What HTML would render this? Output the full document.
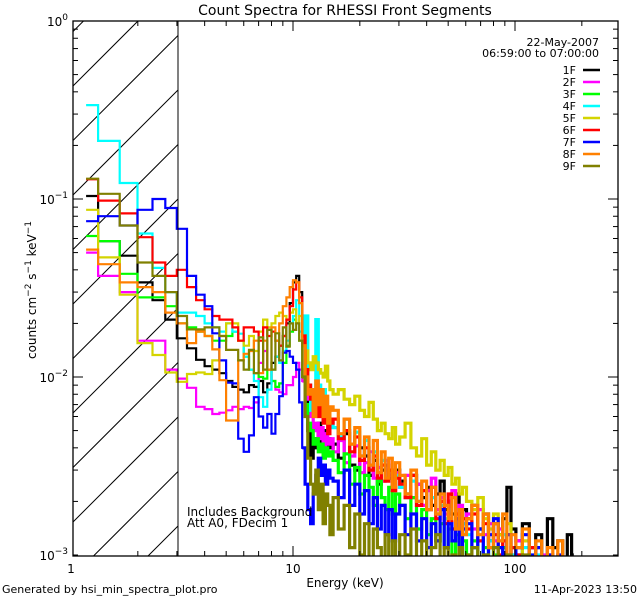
<!DOCTYPE html>
<html><head><meta charset="utf-8"><style>
html,body{margin:0;padding:0;background:#fff;width:640px;height:600px;overflow:hidden;}
svg{display:block;font-family:"DejaVu Sans","Liberation Sans",sans-serif;}
</style></head><body>
<svg id="chart" width="640" height="600" viewBox="0 0 640 600">
<rect x="0" y="0" width="640" height="600" fill="#fff"/>
<defs><clipPath id="plotclip"><rect x="73" y="21" width="545" height="535"/></clipPath></defs>
<g id="hatch"></g>
<g id="series" clip-path="url(#plotclip)"></g>
<g id="axes"></g>
<text x="345" y="15" font-size="14" text-anchor="middle">Count Spectra for RHESSI Front Segments</text>
<text x="345" y="587" font-size="12" text-anchor="middle">Energy (keV)</text>
<text transform="translate(36,290) rotate(-90)" font-size="12" text-anchor="middle">counts cm<tspan baseline-shift="super" font-size="9">−2</tspan> s<tspan baseline-shift="super" font-size="9">−1</tspan> keV<tspan baseline-shift="super" font-size="9">−1</tspan></text>
<text x="2" y="593" font-size="11">Generated by hsi_min_spectra_plot.pro</text>
<text x="637" y="593" font-size="11" text-anchor="end">11-Apr-2023 13:50</text>
<text x="187" y="516" font-size="12">Includes Background</text>
<text x="187" y="527" font-size="12">Att A0, FDecim 1</text>
<text x="599" y="46" font-size="11" text-anchor="end">22-May-2007</text>
<text x="599" y="57" font-size="11" text-anchor="end">06:59:00 to 07:00:00</text>
<g id="legend"></g>
</svg>
<script>
// Energy bin centers (keV)
const energies=[1.17,1.5,1.83,2.17,2.5,2.83,3.17,3.5,3.83,4.17,4.5,4.83,5.17,5.5,5.83,6.17,6.5,6.83,7.17,7.5,7.83,8.17,8.5,8.83,9.17,9.5,9.83,10.17,10.5,10.83,11.17,11.5,11.83,12.17,12.5,12.83,13.17,13.5,13.83,14.17,14.5,14.83,
15.5,16.5,17.5,18.5,19.5,20.5,21.5,22.5,23.5,24.5,25.5,26.5,27.5,28.5,29.5,
31,33,35,37,39,41,43,45,47,49,51,53,55,57,59,
62,66,70,74,78,82,86,90,94,98,
104,112,120,128,136,144,152,160,168,176,184];
const labels=["1F","2F","3F","4F","5F","6F","7F","8F","9F"];
const colors=["#000000","#ff00ff","#00ff00","#00ffff","#d4d400","#ff0000","#0000ff","#ff8000","#808000"];
const s1F=[0.104,0.058,0.048,0.034,0.027,0.021,0.0165,0.0145,0.0125,0.0115,0.011,0.0105,0.0095,0.0088,0.0085,0.0082,0.009,0.0088,0.0095,0.0082,0.0092,0.012,0.013,0.015,0.017,0.02,0.026,0.034,0.037,0.03,0.016,0.008,0.005,0.0035,0.0045,0.004,0.0055,0.004,0.005,0.0038,0.0045,0.004,
0.0042,0.0035,0.0048,0.0032,0.003,0.004,0.0036,0.0028,0.0034,0.0025,0.003,0.0032,0.0027,0.0024,0.003,
0.0026,0.0022,0.0028,0.0025,0.0021,0.0024,0.0019,0.0022,0.0026,0.0018,0.002,0.0017,0.0022,0.0015,0.0018,
0.0016,0.0019,0.0014,0.0017,0.0012,0.0015,0.0013,0.0016,0.0024,0.0014,
0.0012,0.0015,0.0011,0.0013,0.0009,0.0016,0.0011,0.0012,0.0009,0.0013,0.001];
const s2F=[0.05,0.037,0.030,0.016,0.016,0.011,0.0098,0.0087,0.0068,0.0066,0.0062,0.0063,0.0065,0.0068,0.0066,0.0068,0.0067,0.0072,0.012,0.014,0.011,0.0095,0.0085,0.0082,0.008,0.009,0.009,0.01,0.012,0.011,0.0095,0.009,0.0075,0.006,0.005,0.0055,0.0045,0.0052,0.004,0.0048,0.0042,0.0045,
0.0038,0.0044,0.0033,0.0036,0.0041,0.0029,0.0033,0.0038,0.0027,0.0031,0.0026,0.0034,0.0028,0.0023,0.0029,
0.0024,0.0028,0.0021,0.0025,0.0019,0.0023,0.0027,0.0018,0.0021,0.0017,0.002,0.0023,0.0016,0.0019,0.0015,
0.0017,0.0014,0.0018,0.0013,0.0015,0.0012,0.0014,0.0011,0.0013,0.001,
0.0012,0.0009,0.0011,0.0008,0.001,0.0009,0.0007,0.0009,0.0008,0.0006,0.0007];
const s3F=[0.062,0.058,0.038,0.028,0.028,0.025,0.020,0.019,0.018,0.017,0.016,0.016,0.017,0.018,0.016,0.013,0.011,0.0105,0.01,0.0098,0.011,0.0095,0.0088,0.0092,0.012,0.015,0.018,0.021,0.02,0.016,0.01,0.007,0.0055,0.005,0.0042,0.0045,0.0038,0.0042,0.0035,0.004,0.0036,0.0038,
0.0034,0.0029,0.0037,0.0025,0.0031,0.0022,0.0028,0.0024,0.0019,0.0026,0.0021,0.0018,0.0024,0.0017,0.0022,
0.0019,0.0016,0.0021,0.0014,0.0018,0.0013,0.0016,0.0012,0.0015,0.0011,0.0014,0.001,0.0013,0.0009,0.0012,
0.001,0.0012,0.0009,0.0011,0.0008,0.001,0.0009,0.0011,0.0008,0.0009,
0.0008,0.0009,0.0007,0.0008,0.0006,0.0008,0.0007,0.0006,0.0007,0.0005,0.0006];
const s4F=[0.337,0.212,0.123,0.064,0.041,0.030,0.023,0.023,0.022,0.020,0.019,0.018,0.02,0.018,0.0175,0.013,0.011,0.0095,0.0077,0.0068,0.0085,0.011,0.013,0.012,0.014,0.016,0.02,0.022,0.027,0.018,0.012,0.022,0.009,0.0065,0.0085,0.021,0.009,0.007,0.0085,0.006,0.0065,0.0055,
0.0052,0.0046,0.0058,0.0042,0.0049,0.0036,0.0044,0.0032,0.0038,0.0029,0.0034,0.0027,0.003,0.0025,0.0028,
0.0024,0.0021,0.0026,0.002,0.0023,0.0018,0.0021,0.0017,0.0019,0.0016,0.0018,0.0014,0.0016,0.0013,0.0015,
0.0013,0.0011,0.0014,0.001,0.0012,0.0009,0.0011,0.0013,0.0009,0.001,
0.0009,0.0011,0.0008,0.001,0.0007,0.0009,0.0008,0.0007,0.0008,0.0006,0.0007];
const s5F=[0.087,0.047,0.029,0.0155,0.0133,0.0106,0.0094,0.0104,0.0106,0.0104,0.0124,0.017,0.02,0.02,0.016,0.015,0.017,0.014,0.018,0.021,0.019,0.02,0.022,0.023,0.022,0.021,0.023,0.024,0.02,0.022,0.017,0.014,0.012,0.011,0.013,0.012,0.011,0.0105,0.01,0.0115,0.0095,0.0085,
0.008,0.0085,0.0075,0.007,0.0078,0.0065,0.006,0.0072,0.0058,0.005,0.0055,0.0048,0.0045,0.0052,0.0042,
0.0046,0.0055,0.004,0.0036,0.0045,0.0032,0.0038,0.003,0.0034,0.0028,0.0031,0.0025,0.0027,0.0022,0.0024,
0.002,0.0018,0.0021,0.0016,0.0014,0.0017,0.0013,0.0012,0.0015,0.0011,
0.001,0.0012,0.0009,0.0011,0.0008,0.001,0.0009,0.0007,0.0008,0.0006,0.0007];
const s6F=[0.129,0.098,0.083,0.061,0.044,0.037,0.040,0.032,0.027,0.024,0.022,0.021,0.021,0.019,0.016,0.019,0.019,0.018,0.016,0.019,0.017,0.018,0.016,0.015,0.017,0.021,0.025,0.031,0.034,0.028,0.017,0.011,0.009,0.0075,0.0065,0.0085,0.006,0.0072,0.0055,0.0065,0.0048,0.0055,
0.0058,0.0045,0.005,0.0038,0.0046,0.0034,0.004,0.003,0.0036,0.0027,0.0032,0.0026,0.003,0.0023,0.0027,
0.0025,0.0021,0.0028,0.0019,0.0023,0.0018,0.0024,0.0016,0.002,0.0015,0.0022,0.0014,0.0017,0.0013,0.0016,
0.0014,0.0017,0.0012,0.0015,0.0011,0.0013,0.001,0.0012,0.0009,0.0011,
0.001,0.0008,0.0011,0.0007,0.0009,0.0008,0.0007,0.0008,0.0006,0.0007,0.0006];
const s7F=[0.075,0.080,0.071,0.087,0.1,0.089,0.068,0.037,0.029,0.025,0.0176,0.0124,0.0093,0.0092,0.0045,0.0038,0.0047,0.0077,0.006,0.0052,0.0062,0.0048,0.0062,0.0078,0.0137,0.014,0.013,0.012,0.011,0.0072,0.004,0.0025,0.0018,0.0015,0.0022,0.0028,0.0035,0.0028,0.0032,0.0025,0.003,0.0027,
0.0026,0.0021,0.003,0.0019,0.0025,0.0017,0.0023,0.0015,0.0021,0.0014,0.0019,0.0013,0.0018,0.0012,0.0017,
0.0019,0.0013,0.0017,0.0012,0.0016,0.0011,0.0015,0.0012,0.0018,0.0011,0.0015,0.0012,0.0016,0.001,0.0014,
0.0015,0.0011,0.0014,0.001,0.0013,0.0016,0.0011,0.001,0.0013,0.0009,
0.0011,0.0013,0.001,0.0011,0.0009,0.001,0.0008,0.001,0.0009,0.0008,0.0007];
const s8F=[0.052,0.043,0.034,0.032,0.030,0.023,0.02,0.0155,0.018,0.017,0.0143,0.0096,0.0057,0.0057,0.0124,0.0135,0.014,0.016,0.0105,0.016,0.011,0.019,0.016,0.02,0.025,0.028,0.032,0.035,0.034,0.026,0.015,0.01,0.008,0.0085,0.006,0.0095,0.007,0.0085,0.006,0.0078,0.0055,0.0068,
0.0065,0.0048,0.0058,0.0042,0.0052,0.0036,0.0046,0.0032,0.0044,0.0029,0.0038,0.0027,0.0035,0.0024,0.0033,
0.0028,0.0022,0.003,0.002,0.0026,0.0018,0.0024,0.0017,0.0022,0.0019,0.0016,0.0021,0.0014,0.0018,0.0013,
0.0016,0.0019,0.0013,0.0017,0.0011,0.0015,0.0012,0.0017,0.001,0.0013,
0.0011,0.0014,0.0009,0.0012,0.0008,0.0011,0.0009,0.0012,0.0008,0.0007,0.0006];
const s9F=[0.13,0.107,0.071,0.044,0.037,0.03,0.022,0.0185,0.0185,0.019,0.019,0.017,0.0142,0.0142,0.0124,0.011,0.0142,0.0105,0.0167,0.011,0.0184,0.011,0.0176,0.0124,0.019,0.0148,0.02,0.0184,0.02,0.016,0.01,0.006,0.0035,0.0025,0.0022,0.003,0.0018,0.0025,0.0015,0.0022,0.0019,0.0013,
0.0021,0.0014,0.0019,0.0011,0.0017,0.001,0.0015,0.0009,0.0014,0.0011,0.0009,0.0013,0.0008,0.0012,0.0009,
0.0013,0.001,0.0014,0.0009,0.0012,0.0008,0.0011,0.0013,0.0009,0.0011,0.0008,0.001,0.0009,0.0011,0.0008,
0.001,0.0011,0.0008,0.001,0.0009,0.0011,0.0008,0.0009,0.001,0.0008,
0.0009,0.001,0.0008,0.0009,0.0007,0.0009,0.0008,0.0007,0.0008,0.0007,0.0007];
const seriesValues=[s1F,s2F,s3F,s4F,s5F,s6F,s7F,s8F,s9F];
const xTickLabels=["1","10","100"];
const yTickLabels=["0","−1","−2","−3"];

const NS="http://www.w3.org/2000/svg";
const X0=71,XD=222,Y0=21,YD=178;
const PT=21,PB=556,PL=73,PR=618;
function xs(e){return X0+XD*Math.log10(e);}
function ys(v){return Y0-YD*Math.log10(v);}
function cy(y){return Math.max(PT-2,Math.min(PB+2,y));}
function mk(tag,attrs,parent){const el=document.createElementNS(NS,tag);for(const k in attrs)el.setAttribute(k,attrs[k]);parent.appendChild(el);return el;}

// hatch (45-degree lines, clipped analytically to the hatched box)
const hatch=document.getElementById('hatch');
const HX0=73,HX1=178;
for(let k=-12;k<14;k++){
  const c=86+54.5*k; // y at x=HX0; line y = c-(x-HX0)
  let xa=HX0,xb=HX1;
  // y between PT and PB
  xa=Math.max(xa,HX0+(c-PB));
  xb=Math.min(xb,HX0+(c-PT));
  if(xb<=xa)continue;
  const el=mk('line',{x1:xa,y1:c-(xa-HX0),x2:xb,y2:c-(xb-HX0),stroke:'#000','stroke-width':1},hatch);
  
  
}

// series
const sg=document.getElementById('series');
seriesValues.forEach((vals,si)=>{
  let d1='',d2='';
  for(let i=0;i<energies.length;i++){
    const left=i===0?energies[0]:Math.sqrt(energies[i-1]*energies[i]);
    const right=i===energies.length-1?energies[i]:Math.sqrt(energies[i]*energies[i+1]);
    const y=cy(ys(vals[i])).toFixed(1);
    const seg='L'+xs(left).toFixed(1)+','+y+'L'+xs(right).toFixed(1)+','+y;
    if(energies[i]<11.5){d1+=(d1===''?'M'+xs(left).toFixed(1)+','+y:'')+seg;}
    if(energies[i]>=11.1){d2+=(d2===''?'M'+xs(left).toFixed(1)+','+y:'')+seg;}
  }
  const p=mk('path',{d:d1,fill:'none',stroke:colors[si],'stroke-width':2.2},sg);
  
  
  const p2=mk('path',{d:d2,fill:'none',stroke:colors[si],'stroke-width':3.2},sg);
  
  
});

// axes
const ax=document.getElementById('axes');
const frame=mk('rect',{x:73,y:21,width:545,height:535,fill:'none',stroke:'#000','stroke-width':1.3},ax);


mk('line',{x1:178,y1:21,x2:178,y2:556,stroke:'#000','stroke-width':1},ax);
for(let dec=0;dec<3;dec++){
  for(let m=1;m<10;m++){
    const e=Math.pow(10,dec)*m;const x=xs(e);
    if(x<73||x>618)continue;
    const L=m===1?10:5;
    mk('line',{x1:x,y1:556,x2:x,y2:556-L,stroke:'#000','stroke-width':1},ax);
    mk('line',{x1:x,y1:21,x2:x,y2:21+L,stroke:'#000','stroke-width':1},ax);
  }
}
xTickLabels.forEach((t,i)=>{
  const tx=mk('text',{x:xs(Math.pow(10,i)),y:573,'font-size':12,'text-anchor':'middle'},ax);
  tx.textContent=t;
  
  
});
for(let dec=0;dec<3;dec++){
  for(let m=1;m<=10;m++){
    const v=Math.pow(10,-dec-1)*m;const y=ys(v);
    const L=m===10?10:5;
    mk('line',{x1:73,y1:y,x2:73+L,y2:y,stroke:'#000','stroke-width':1},ax);
    mk('line',{x1:618,y1:y,x2:618-L,y2:y,stroke:'#000','stroke-width':1},ax);
  }
}
yTickLabels.forEach((t,i)=>{
  const y=ys(Math.pow(10,-i));
  const tx=mk('text',{x:68,y:y+5,'font-size':12,'text-anchor':'end'},ax);
  
  
  const b=document.createElementNS(NS,'tspan');b.textContent='10';tx.appendChild(b);
  const s=document.createElementNS(NS,'tspan');s.setAttribute('font-size','9');s.setAttribute('dy','-6');s.textContent=t;tx.appendChild(s);
});

// legend
const lg=document.getElementById('legend');
labels.forEach((l,i)=>{
  const y=70+12*i;
  const g=mk('g',{},lg);
  
  
  const t=mk('text',{x:576,y:y+4,'font-size':11,'text-anchor':'end'},g);t.textContent=l;
  mk('line',{x1:583,y1:y,x2:600,y2:y,stroke:colors[i],'stroke-width':2.5},g);
});
</script>
</body></html>
